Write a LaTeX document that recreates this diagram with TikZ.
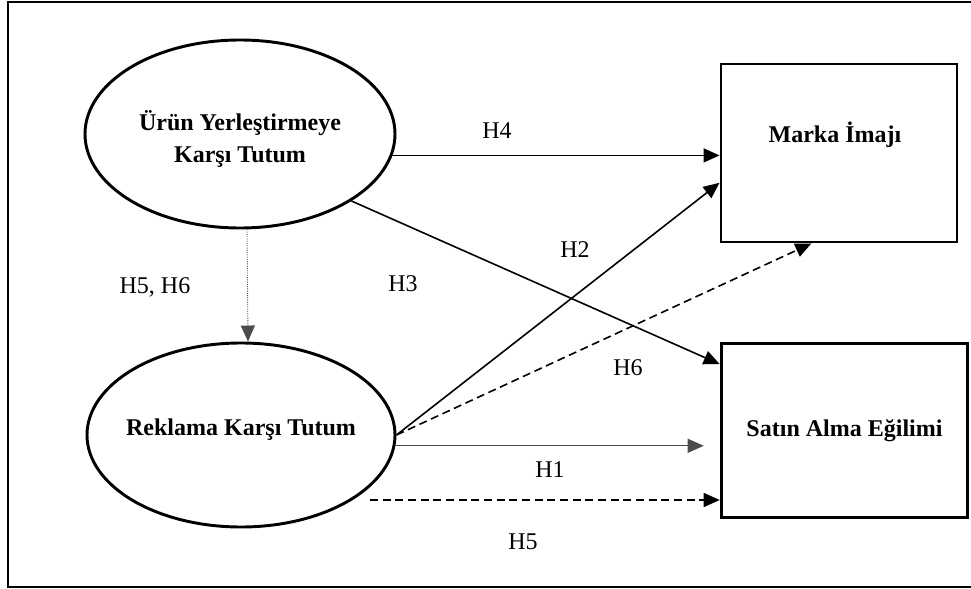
\documentclass[tikz,border=0pt]{standalone}
\usepackage{fontspec}
\setmainfont{Liberation Serif}
\usepackage{tikz}
\usetikzlibrary{arrows.meta,shapes.geometric}

\begin{document}
\begin{tikzpicture}[line cap=butt,line join=miter,x=0.75pt,y=-0.75pt,
  >={Triangle[length=12pt,width=10.5pt]},
  every node/.style={font=\fontsize{18pt}{24pt}\selectfont},
  latent/.style={draw,ellipse,line width=2.2pt,inner sep=0pt},
  observed/.style={draw,rectangle,line width=2.2pt,font=\fontsize{18pt}{24pt}\selectfont\bfseries},
  title/.style={font=\fontsize{18pt}{24pt}\selectfont\bfseries,align=center},
  hyp/.style={->,line width=1.2pt},
  hypdash/.style={->,line width=1.2pt,dash pattern=on 6pt off 3.5pt}]
\clip (0,0) rectangle (971,589);
\draw [line width=1.9pt] (8,2) rectangle (990,587);
% constructs
\node [latent,minimum width=232.5pt,minimum height=141pt] (urun) at (240,134) {};
\node [title] (uruntxt) at (240,139) {Ürün Yerleştirmeye\\Karşı Tutum};
\node [latent,minimum width=231pt,minimum height=138pt] (reklam) at (241,435) {};
\node [title] (reklamtxt) at (241,430) {Reklama Karşı Tutum};
\node [observed,minimum width=177pt,minimum height=133.5pt] (imaj) at (839,153) {};
\node [title] (imajtxt) at (835,135) {Marka İmajı};
\node [observed,minimum width=185pt,minimum height=130pt] (satin) at (844.5,430.5) {Satın Alma Eğilimi};
\coordinate (h5start) at (370,500);
% paths
\draw [hyp] (urun.-8) -- (urun.-8 -| imaj.west);
\draw [hyp] (urun.-31) -- (satin.152);
\draw [hyp] (reklam.east) -- (imaj.194);
\draw [hypdash] (reklam.east) -- (imaj.253);
\draw [->,line width=0.6pt,draw=black!70,shorten >=12pt] (reklam.-4) -- (reklam.-4 -| satin.west);
\draw [hypdash] (h5start) -- (h5start -| satin.west);
\draw [->,line width=0.7pt,draw=black!70,densely dotted] ([xshift=5.25pt]urun.south) -- ([xshift=5.25pt]reklam.north);
% labels
\node (h4) at (497,131) {H4};
\node (h3) at (403,284) {H3};
\node (h2) at (575,250) {H2};
\node (h6) at (628,368) {H6};
\node (h1) at (550,470) {H1};
\node (h5) at (523,542) {H5};
\node (h56) at (155,287) {H5, H6};
\end{tikzpicture}
\end{document}
